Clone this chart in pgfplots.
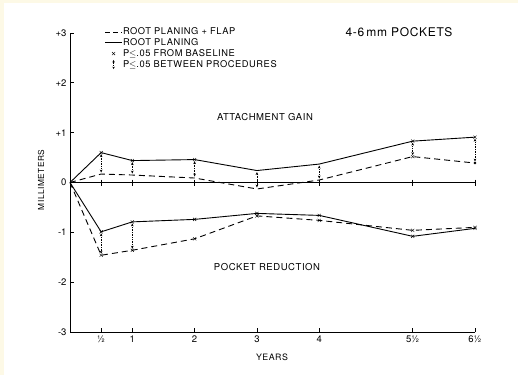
\documentclass[border=0pt]{standalone}
\usepackage{pgfplots}
\pgfplotsset{compat=1.18}
\usepackage{fontspec}
\setmainfont{TeX Gyre Heros}
\newfontfamily\lab[LetterSpace=6]{TeX Gyre Heros}
\usetikzlibrary{arrows.meta}
\definecolor{cream}{HTML}{FDF9E6}
\begin{document}
\begin{tikzpicture}[x=1pt,y=1pt]
\fill[white] (0,0) rectangle (518,375);
\fill[cream] (0,0) rectangle (4,375);
\fill[cream] (0,372) rectangle (518,375);
\begin{axis}[
  at={(70pt,43pt)}, anchor=south west, scale only axis,
  width=405pt, height=299pt,
  xmin=0, xmax=6.5, ymin=-3, ymax=3,
  clip=false,
  axis lines=left,
  axis line style={-, line width=1pt},
  tick align=inside, major tick length=4pt,
  tick style={black, line width=0.8pt},
  xtick={0.5,1,2,3,4,5.5,6.5},
  xticklabels={½,1,2,3,4,5½,6½},
  ytick={-3,-2,-1,0,1,2,3},
  yticklabels={-3,-2,-1,0,+1,+2,+3},
  ticklabel style={font=\fontsize{9.5}{10}\selectfont},
  legend style={draw=none, fill=none, at={(0.085,1.02)}, anchor=north west,
    font=\lab\fontsize{9.3}{10}\selectfont, row sep=1.3pt, inner sep=0pt,
    nodes={inner sep=0.5pt, text height=7pt, text depth=1.5pt}},
  legend cell align=left,
]
\addlegendimage{black, line width=0.8pt, dash pattern=on 5pt off 3pt}
\addlegendentry{ROOT PLANING + FLAP}
\addlegendimage{black, line width=0.8pt}
\addlegendentry{ROOT PLANING}
\addlegendimage{only marks, mark=x, mark size=2.2pt, black}
\addlegendentry{P$\le$.05 FROM BASELINE}
\addlegendimage{legend image code/.code={\draw[black, densely dotted, line width=0.7pt, {Stealth[length=2.5pt,width=2.5pt]}-{Stealth[length=2.5pt,width=2.5pt]}] (0.3cm,-0.16cm) -- (0.3cm,0.16cm);}}
\addlegendentry{P$\le$.05 BETWEEN PROCEDURES}

% baseline
\addplot[forget plot, black, line width=0.8pt, mark=|, mark size=3pt] coordinates {(0,0)(0.5,0)(1,0)(2,0)(3,0)(4,0)(5.5,0)(6.5,0)};

% attachment gain
\addplot[forget plot, black, line width=0.9pt] coordinates {(0,0)(0.5,0.60)(1,0.44)(2,0.46)(3,0.24)(4,0.37)(5.5,0.83)(6.5,0.91)};
\addplot[forget plot, black, line width=0.9pt, dash pattern=on 6pt off 4pt] coordinates {(0,0)(0.5,0.17)(1,0.15)(2,0.09)(3,-0.13)(4,0.05)(5.5,0.52)(6.5,0.39)};
% pocket reduction
\addplot[forget plot, black, line width=0.9pt] coordinates {(0,0)(0.5,-0.99)(1,-0.79)(2,-0.74)(3,-0.62)(4,-0.66)(5.5,-1.08)(6.5,-0.92)};
\addplot[forget plot, black, line width=0.9pt, dash pattern=on 6pt off 4pt] coordinates {(0,0)(0.5,-1.46)(1,-1.36)(2,-1.13)(3,-0.67)(4,-0.76)(5.5,-0.96)(6.5,-0.90)};

% significance from baseline
\addplot[forget plot, only marks, mark=x, mark size=2.2pt, black] coordinates {(0.5,0.60)(1,0.44)(2,0.46)(5.5,0.83)(6.5,0.91)(5.5,0.52)};
\addplot[forget plot, only marks, mark=x, mark size=2.2pt, black] coordinates {(0.5,-0.99)(1,-0.79)(2,-0.74)(3,-0.62)(4,-0.66)(5.5,-1.08)(6.5,-0.92)(0.5,-1.46)(1,-1.36)(2,-1.13)(3,-0.67)(4,-0.76)(5.5,-0.96)(6.5,-0.90)};
\addplot[forget plot, only marks, mark=*, mark size=1.1pt, black] coordinates {(6.5,0.39)};

% significance between procedures
\pgfplotsset{sigarrow/.style={forget plot, black, densely dotted, line width=0.7pt, {Stealth[length=3pt,width=2.6pt]}-{Stealth[length=3pt,width=2.6pt]}}}
\addplot[sigarrow] coordinates {(0.5,0.57)(0.5,0.20)};
\addplot[sigarrow] coordinates {(1,0.41)(1,0.18)};
\addplot[sigarrow] coordinates {(2,0.43)(2,0.12)};
\addplot[sigarrow] coordinates {(3,0.21)(3,-0.10)};
\addplot[sigarrow] coordinates {(4,0.34)(4,0.08)};
\addplot[sigarrow] coordinates {(5.5,0.80)(5.5,0.55)};
\addplot[sigarrow] coordinates {(6.5,0.88)(6.5,0.42)};
\addplot[sigarrow] coordinates {(0.5,-1.02)(0.5,-1.43)};
\addplot[sigarrow] coordinates {(1,-0.82)(1,-1.33)};
\end{axis}
\node[font=\lab\fontsize{12}{14}\selectfont] at (399,343) {4-6\,mm POCKETS};
\node[font=\lab\fontsize{9.5}{11}\selectfont] at (265,258) {ATTACHMENT GAIN};
\node[font=\lab\fontsize{9.5}{11}\selectfont] at (267,108) {POCKET REDUCTION};
\node[font=\lab\fontsize{8.8}{10}\selectfont] at (272,18) {YEARS};
\node[font=\lab\fontsize{8.3}{10}\selectfont, rotate=90] at (41,195) {MILLIMETERS};
\end{tikzpicture}
\end{document}
